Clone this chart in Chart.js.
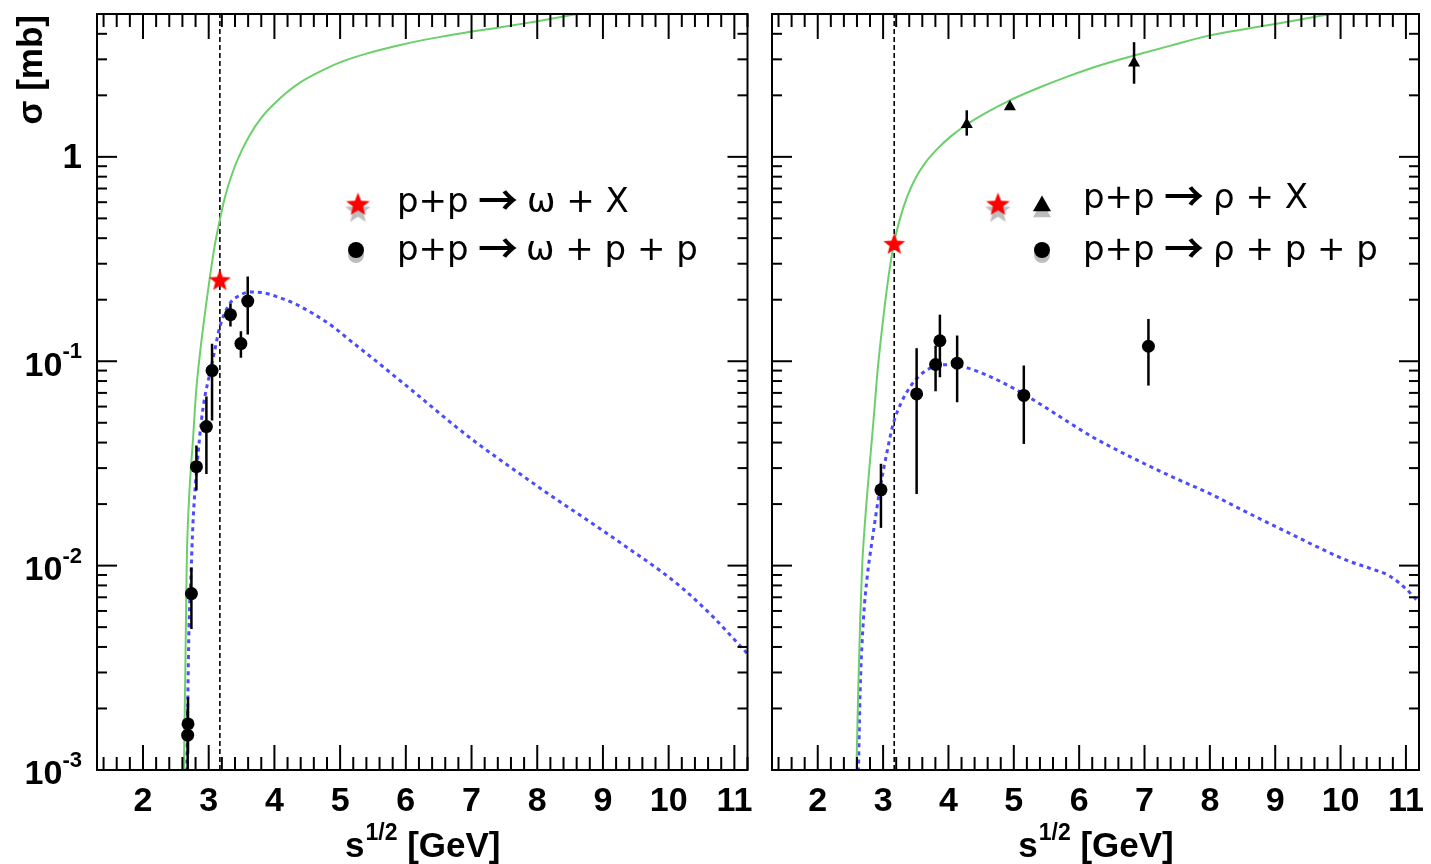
<!DOCTYPE html>
<html>
<head>
<meta charset="utf-8">
<script src="https://cdn.jsdelivr.net/npm/chart.js@4/dist/chart.umd.min.js"></script>
<style>
  html, body { margin: 0; padding: 0; background: #fff; }
  #wrap { position: relative; width: 1431px; height: 864px; overflow: hidden; background: #fff; }
  canvas { position: absolute; top: 0; }
</style>
</head>
<body>
<div id="wrap">
  <canvas id="omegaPanel" width="760" height="864" style="left:0px"></canvas>
  <canvas id="rhoPanel" width="671" height="864" style="left:760px"></canvas>
</div>
<script>
// ---- axis setup -------------------------------------------------------
const X_RANGE = [1.3, 11.2];          // sqrt(s) in GeV
const Y_RANGE = [1e-3, 5];            // cross section in mb
const xTickValues = [2, 3, 4, 5, 6, 7, 8, 9, 10, 11];
const xTickLabels = ['2', '3', '4', '5', '6', '7', '8', '9', '10', '11'];
const yTickValues = [1e-3, 1e-2, 1e-1, 1];
const yTickBase   = ['10', '10', '10', '1'];
const yTickExp    = ['-3', '-2', '-1', ''];
const beamSqrtS = 3.17;               // p+p at 3.5 GeV kinetic energy

// ---- omega panel ------------------------------------------------------
const omegaInclX = [3.17];
const omegaInclY = [0.25];

const omegaExclX  = [2.68, 2.685, 2.737, 2.813, 2.965, 3.051, 3.331, 3.49, 3.594];
const omegaExclY  = [0.00148, 0.00168, 0.0073, 0.0305, 0.0479, 0.090, 0.169, 0.122, 0.197];
const omegaExclLo = [0.0009, 0.0012, 0.0049, 0.0233, 0.0281, 0.0513, 0.148, 0.104, 0.135];
const omegaExclHi = [0.0020, 0.00227, 0.0098, 0.0387, 0.0672, 0.1217, 0.191, 0.140, 0.260];

const omegaModelInclX = [2.62, 2.645, 2.665, 2.70, 2.76, 2.81, 2.89, 2.99, 3.08, 3.15, 3.25, 3.37, 3.50, 3.62, 3.80, 4.00, 4.20, 4.40, 4.70, 5.00, 5.40, 5.90, 6.40, 6.90, 7.40, 7.90, 8.30, 8.60];
const omegaModelInclY = [0.0009, 0.0032, 0.010, 0.021, 0.041, 0.072, 0.126, 0.222, 0.35, 0.46, 0.64, 0.85, 1.07, 1.27, 1.55, 1.82, 2.08, 2.32, 2.62, 2.90, 3.20, 3.52, 3.80, 4.05, 4.28, 4.55, 4.79, 5.0];

const omegaModelExclX = [2.665, 2.68, 2.70, 2.73, 2.76, 2.787, 2.838, 2.889, 2.94, 3.016, 3.092, 3.168, 3.32, 3.47, 3.625, 3.80, 4.056, 4.30, 4.60, 4.90, 5.15, 5.50, 5.91, 6.30, 6.67, 7.05, 7.43, 7.80, 8.19, 8.60, 8.95, 9.46, 9.90, 10.20, 10.45, 10.68, 10.93, 11.20];
const omegaModelExclY = [0.0009, 0.002, 0.005, 0.009, 0.016, 0.0224, 0.0352, 0.0513, 0.0667, 0.0867, 0.113, 0.147, 0.191, 0.210, 0.218, 0.217, 0.206, 0.192, 0.170, 0.147, 0.1265, 0.103, 0.0805, 0.0635, 0.0505, 0.0405, 0.033, 0.0272, 0.0222, 0.0181, 0.0152, 0.0117, 0.0093, 0.0078, 0.0066, 0.0056, 0.0046, 0.0037];

// ---- rho panel --------------------------------------------------------
const rhoInclStarX = [3.17];
const rhoInclStarY = [0.376];

const rhoInclX  = [4.28, 4.94, 6.84];
const rhoInclY  = [1.44, 1.76, 2.88];
const rhoInclLo = [1.27, 1.76, 2.28];
const rhoInclHi = [1.69, 1.76, 3.64];

const rhoExclX  = [2.967, 3.513, 3.803, 3.869, 4.133, 5.153, 7.06];
const rhoExclY  = [0.0235, 0.0692, 0.0964, 0.126, 0.0978, 0.068, 0.1184];
const rhoExclLo = [0.0153, 0.0224, 0.0713, 0.0835, 0.063, 0.0394, 0.076];
const rhoExclHi = [0.0315, 0.1158, 0.119, 0.169, 0.1336, 0.0953, 0.161];

const rhoModelInclX = [2.59, 2.62, 2.65, 2.68, 2.73, 2.79, 2.85, 2.92, 3.00, 3.08, 3.166, 3.26, 3.37, 3.50, 3.65, 3.85, 4.05, 4.28, 4.60, 4.94, 5.40, 5.85, 6.31, 6.84, 7.40, 8.00, 8.50, 9.00, 9.45, 9.85];
const rhoModelInclY = [0.00095, 0.0025, 0.0055, 0.0100, 0.0175, 0.030, 0.050, 0.093, 0.160, 0.255, 0.376, 0.50, 0.64, 0.79, 0.94, 1.11, 1.27, 1.44, 1.66, 1.89, 2.19, 2.49, 2.80, 3.13, 3.50, 3.93, 4.20, 4.47, 4.74, 5.0];

const rhoModelExclX = [2.62, 2.65, 2.70, 2.76, 2.825, 2.95, 3.06, 3.155, 3.28, 3.41, 3.54, 3.666, 3.80, 3.95, 4.10, 4.30, 4.55, 4.80, 5.14, 5.50, 5.85, 6.21, 6.60, 7.00, 7.50, 8.00, 8.60, 9.20, 9.70, 10.10, 10.45, 10.75, 11.00, 11.20];
const rhoModelExclY = [0.0009, 0.0025, 0.0055, 0.009, 0.0128, 0.0235, 0.036, 0.0494, 0.063, 0.0746, 0.084, 0.0905, 0.0945, 0.0962, 0.0958, 0.0925, 0.0865, 0.0795, 0.0695, 0.059, 0.050, 0.0425, 0.0365, 0.0315, 0.0265, 0.0225, 0.018, 0.0145, 0.0121, 0.0106, 0.0097, 0.0089, 0.0077, 0.0066];

// ---- styling ------------------------------------------------------------
const GREEN = '#6ccf6c';
const BLUE = '#4b4bff';
const SHADOW = '#bdbdbd';
const AXIS_FONT = '"Liberation Sans", Arial, Helvetica, sans-serif';
const LEGEND_FONT = '"DejaVu Sans", Verdana, sans-serif';
const ARROW_FONT = '"Noto Sans CJK JP", "Noto Sans CJK SC", "DejaVu Sans", sans-serif';

function makeStar(r, fill) {
  const c = document.createElement('canvas');
  const s = Math.ceil(2 * r + 4);
  c.width = s; c.height = s;
  const g = c.getContext('2d');
  g.beginPath();
  for (let i = 0; i < 10; i++) {
    const ang = -Math.PI / 2 + i * Math.PI / 5;
    const rad = (i % 2) ? r * 0.42 : r;
    const px = s / 2 + rad * Math.cos(ang), py = s / 2 + 1 + rad * Math.sin(ang);
    if (i === 0) g.moveTo(px, py); else g.lineTo(px, py);
  }
  g.closePath();
  g.fillStyle = fill;
  g.fill();
  return c;
}
const redStar = makeStar(11.5, '#ff0000');
const legendStar = makeStar(12.5, '#ff0000');
const greyStar = makeStar(13.5, SHADOW);

function pts(xs, ys, lo, hi) {
  return xs.map((x, i) => {
    const p = { x: x, y: ys[i] };
    if (lo) { p.lo = lo[i]; p.hi = hi[i]; }
    return p;
  });
}

function curve(xs, ys, color, dashed) {
  return {
    data: pts(xs, ys), showLine: true, borderColor: color,
    borderWidth: dashed ? 3 : 2, borderDash: dashed ? [4, 4] : [],
    pointRadius: 0, cubicInterpolationMode: 'monotone', order: 3
  };
}

function thresholdLine() {
  return {
    data: [{ x: beamSqrtS, y: Y_RANGE[0] }, { x: beamSqrtS, y: Y_RANGE[1] }],
    showLine: true, borderColor: '#000', borderWidth: 1.6, borderDash: [5, 3],
    pointRadius: 0, order: 4
  };
}

// vertical error bars drawn right before their own markers
const errorBarPlugin = {
  id: 'errorBars',
  beforeDatasetDraw(chart, args) {
    const ds = chart.data.datasets[args.index];
    if (!ds.errorBars) return;
    const { ctx, chartArea: a, scales: { x, y } } = chart;
    ctx.save();
    ctx.beginPath();
    ctx.rect(a.left, a.top, a.right - a.left, a.bottom - a.top);
    ctx.clip();
    ctx.strokeStyle = '#000';
    ctx.lineWidth = 2.5;
    ds.data.forEach(p => {
      if (p.lo == null || p.lo === p.hi) return;
      const px = x.getPixelForValue(p.x);
      ctx.beginPath();
      ctx.moveTo(px, y.getPixelForValue(p.lo));
      ctx.lineTo(px, y.getPixelForValue(p.hi));
      ctx.stroke();
    });
    ctx.restore();
  }
};

function drawDot(ctx, cx, cy, r, color) {
  ctx.fillStyle = color;
  ctx.beginPath(); ctx.arc(cx, cy, r, 0, Math.PI * 2); ctx.fill();
}
function drawTriangle(ctx, cx, cy, r, color) {
  ctx.fillStyle = color;
  ctx.beginPath();
  ctx.moveTo(cx, cy - r);
  ctx.lineTo(cx + r * 0.95, cy + r * 0.65);
  ctx.lineTo(cx - r * 0.95, cy + r * 0.65);
  ctx.closePath(); ctx.fill();
}

// frame, inside ticks, labels, titles and the legend
function rootAxesPlugin(cfg) {
  return {
    id: 'rootAxes',
    afterDraw(chart) {
      const { ctx, chartArea: a, scales: { x, y } } = chart;
      ctx.save();
      ctx.strokeStyle = '#000';
      ctx.fillStyle = '#000';
      ctx.lineWidth = 2;
      const seg = (x1, y1, x2, y2) => { ctx.beginPath(); ctx.moveTo(x1, y1); ctx.lineTo(x2, y2); ctx.stroke(); };

      for (let k = Math.ceil(X_RANGE[0] * 5); k <= Math.floor(X_RANGE[1] * 5 + 1e-9); k++) {
        const px = x.getPixelForValue(k / 5);
        const len = (k % 5 === 0) ? 25 : 13;
        seg(px, a.bottom, px, a.bottom - len);
        seg(px, a.top, px, a.top + len);
      }
      for (let d = -3; d <= 0; d++) {
        for (let m = 1; m <= 9; m++) {
          const v = m * Math.pow(10, d);
          if (v < Y_RANGE[0] * 0.999 || v > Y_RANGE[1] * 1.001) continue;
          const py = y.getPixelForValue(v);
          const len = (m === 1) ? 20 : 10;
          seg(a.left, py, a.left + len, py);
          seg(a.right, py, a.right - len, py);
        }
      }
      ctx.strokeRect(a.left, a.top, a.right - a.left, a.bottom - a.top);

      // x tick labels
      ctx.font = 'bold 34px ' + AXIS_FONT;
      ctx.textAlign = 'center';
      ctx.textBaseline = 'middle';
      xTickValues.forEach((v, i) => {
        ctx.fillText(xTickLabels[i], x.getPixelForValue(v), a.bottom + 32);
      });

      // y tick labels
      if (cfg.yLabels) {
        const right = a.left - 15;
        yTickValues.forEach((v, i) => {
          const py = y.getPixelForValue(v);
          ctx.textAlign = 'right';
          ctx.textBaseline = 'middle';
          if (yTickExp[i]) {
            ctx.font = 'bold 22px ' + AXIS_FONT;
            const w = ctx.measureText(yTickExp[i]).width;
            ctx.fillText(yTickExp[i], right, py - 9);
            ctx.font = 'bold 34px ' + AXIS_FONT;
            ctx.fillText(yTickBase[i], right - w, py + 5);
          } else {
            ctx.font = 'bold 35px ' + AXIS_FONT;
            ctx.fillText(yTickBase[i], right, py + 1);
          }
        });
        // y title
        ctx.save();
        ctx.translate(a.left - 55, a.top + 1);
        ctx.rotate(-Math.PI / 2);
        ctx.font = 'bold 35px ' + AXIS_FONT;
        ctx.textAlign = 'right';
        ctx.textBaseline = 'alphabetic';
        ctx.fillText('\u03C3 [mb]', 0, 0);
        ctx.restore();
      }

      // x title  s^{1/2} [GeV]
      ctx.textAlign = 'left';
      ctx.textBaseline = 'alphabetic';
      ctx.font = 'bold 35px ' + AXIS_FONT;
      const wS = ctx.measureText('s').width;
      const wRest = ctx.measureText(' [GeV]').width;
      ctx.font = 'bold 23px ' + AXIS_FONT;
      const wSup = ctx.measureText('1/2').width;
      let tx = (a.left + a.right) / 2 - (wS + wSup + wRest) / 2;
      const base = a.bottom + 87;
      ctx.font = 'bold 35px ' + AXIS_FONT;
      ctx.fillText('s', tx, base);
      ctx.font = 'bold 23px ' + AXIS_FONT;
      ctx.fillText('1/2', tx + wS + 1, base - 17);
      ctx.font = 'bold 35px ' + AXIS_FONT;
      ctx.fillText(' [GeV]', tx + wS + wSup + 1, base);

      // legend
      const ox = cfg.canvasLeft;
      cfg.legend.forEach(row => {
        row.markers.forEach(mk => {
          const mx = mk.x - ox, my = mk.y;
          if (mk.type === 'star') {
            ctx.drawImage(greyStar, mx - greyStar.width / 2, my + 6 - greyStar.height / 2);
            ctx.drawImage(legendStar, mx - legendStar.width / 2, my - legendStar.height / 2);
          } else if (mk.type === 'dot') {
            drawDot(ctx, mx, my + 5, 8, SHADOW);
            drawDot(ctx, mx, my, 8, '#000');
          } else if (mk.type === 'tri') {
            drawTriangle(ctx, mx, my + 6, 9.5, SHADOW);
            drawTriangle(ctx, mx, my, 9.5, '#000');
          }
        });
        ctx.fillStyle = '#000';
        ctx.textAlign = 'left';
        row.parts.forEach(p => {
          if (p.arrow) {
            ctx.font = 'bold 40px ' + ARROW_FONT;
            ctx.textBaseline = 'middle';
            ctx.fillText(p.t, p.x - ox, row.ay);
          } else {
            ctx.font = '34px ' + LEGEND_FONT;
            ctx.textBaseline = 'alphabetic';
            ctx.fillText(p.t, p.x - ox, row.ty);
          }
        });
      });
      ctx.restore();
    }
  };
}

function buildPanel(id, padding, datasets, cfg) {
  return new Chart(document.getElementById(id), {
    type: 'scatter',
    data: { datasets: datasets },
    options: {
      responsive: false,
      animation: false,
      devicePixelRatio: 1,
      layout: { padding: padding },
      plugins: { legend: { display: false }, tooltip: { enabled: false } },
      scales: {
        x: { type: 'linear', min: X_RANGE[0], max: X_RANGE[1], display: false },
        y: { type: 'logarithmic', min: Y_RANGE[0], max: Y_RANGE[1], display: false }
      }
    },
    plugins: [errorBarPlugin, rootAxesPlugin(cfg)]
  });
}

// p+p -> omega
buildPanel('omegaPanel', { left: 97, right: 12.5, top: 14, bottom: 94 }, [
  { data: pts(omegaInclX, omegaInclY), pointStyle: redStar, pointRadius: 11, order: 0 },
  { data: pts(omegaExclX, omegaExclY, omegaExclLo, omegaExclHi), errorBars: true,
    pointStyle: 'circle', pointRadius: 6.5, backgroundColor: '#000', borderColor: '#000', borderWidth: 0, order: 1 },
  curve(omegaModelInclX, omegaModelInclY, GREEN, false),
  curve(omegaModelExclX, omegaModelExclY, BLUE, true),
  thresholdLine()
], {
  yLabels: true,
  canvasLeft: 0,
  legend: [
    { markers: [{ type: 'star', x: 358, y: 204 }], ty: 212, ay: 200,
      parts: [{ t: 'p+p', x: 397 }, { t: '\u2192', x: 478, arrow: true }, { t: '\u03C9 + X', x: 527 }] },
    { markers: [{ type: 'dot', x: 356, y: 250 }], ty: 260, ay: 248,
      parts: [{ t: 'p+p', x: 397 }, { t: '\u2192', x: 478, arrow: true }, { t: '\u03C9 + p + p', x: 526 }] }
  ]
});

// p+p -> rho
buildPanel('rhoPanel', { left: 12, right: 11.5, top: 14, bottom: 94 }, [
  { data: pts(rhoInclStarX, rhoInclStarY), pointStyle: redStar, pointRadius: 11, order: 0 },
  { data: pts(rhoInclX, rhoInclY, rhoInclLo, rhoInclHi), errorBars: true,
    pointStyle: 'triangle', pointRadius: 7, backgroundColor: '#000', borderColor: '#000', borderWidth: 0, order: 1 },
  { data: pts(rhoExclX, rhoExclY, rhoExclLo, rhoExclHi), errorBars: true,
    pointStyle: 'circle', pointRadius: 6.5, backgroundColor: '#000', borderColor: '#000', borderWidth: 0, order: 1 },
  curve(rhoModelInclX, rhoModelInclY, GREEN, false),
  curve(rhoModelExclX, rhoModelExclY, BLUE, true),
  thresholdLine()
], {
  yLabels: false,
  canvasLeft: 760,
  legend: [
    { markers: [{ type: 'star', x: 998, y: 204 }, { type: 'tri', x: 1042, y: 205 }], ty: 208, ay: 196,
      parts: [{ t: 'p+p', x: 1083 }, { t: '\u2192', x: 1164, arrow: true }, { t: '\u03C1 + X', x: 1213 }] },
    { markers: [{ type: 'dot', x: 1042, y: 250 }], ty: 260, ay: 248,
      parts: [{ t: 'p+p', x: 1083 }, { t: '\u2192', x: 1164, arrow: true }, { t: '\u03C1 + p + p', x: 1213 }] }
  ]
});
</script>
</body>
</html>
